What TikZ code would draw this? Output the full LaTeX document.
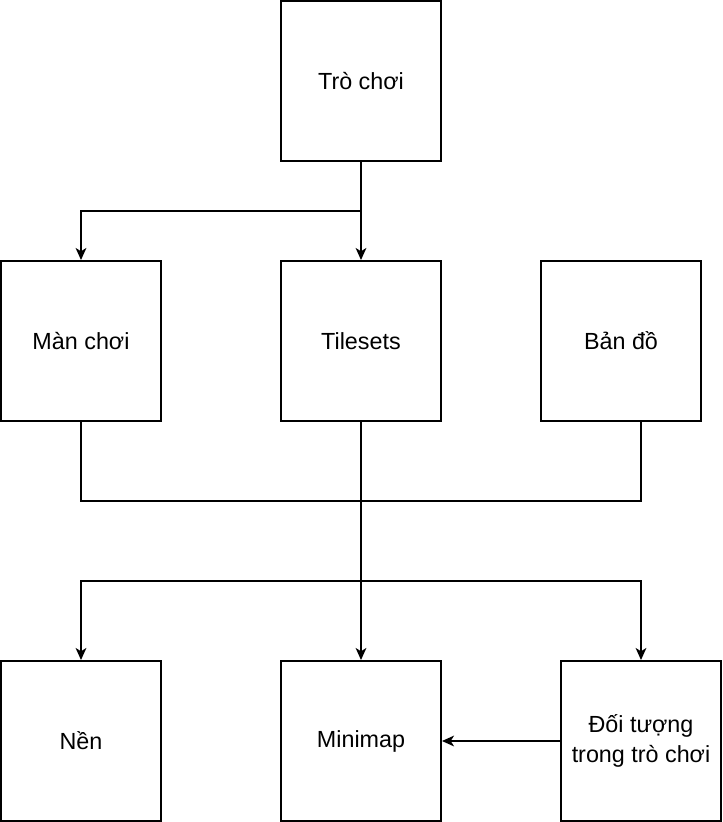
\documentclass[tikz,border=0pt]{standalone}
\usepackage{fontspec}
\setmainfont{Liberation Sans}
\usetikzlibrary{arrows.meta}
\begin{document}
\begin{tikzpicture}[x=0.75pt,y=-0.75pt,
  box/.style={draw,line width=1.5pt,minimum width=120pt,minimum height=120pt,inner sep=0pt,align=center,font=\fontsize{17.5}{22}\selectfont},
  ln/.style={line width=1.5pt},
  arr/.style={line width=1.5pt,-{Stealth[length=9pt,width=8pt,inset=2.5pt]}}]
\useasboundingbox (0,0) rectangle (722,822);
\node[box] (tro) at (361,81) {Trò chơi};
\node[box] (man) at (81,341) {Màn chơi};
\node[box] (til) at (361,341) {Tilesets};
\node[box] (ban) at (621,341) {Bản đồ};
\node[box] (nen) at (81,741) {Nền};
\node[box] (mini) at (361,741) {Minimap};
\node[box] (doi) at (641,741) {Đối tượng\\trong trò chơi};
\coordinate (j1) at (361,211);
\coordinate (j2) at (361,501);
\coordinate (j3) at (361,581);
\coordinate (bs) at (641,421);
\draw[arr] (tro.south) -- (til.north);
\draw[arr] (j1) -| (man.north);
\draw[ln] (man.south) |- (j2);
\draw[ln] (bs) |- (j2);
\draw[arr] (til.south) -- (mini.north);
\draw[arr] (j3) -| (nen.north);
\draw[arr] (j3) -| (doi.north);
\draw[arr] (doi.west) -- (mini.east);
\end{tikzpicture}
\end{document}
